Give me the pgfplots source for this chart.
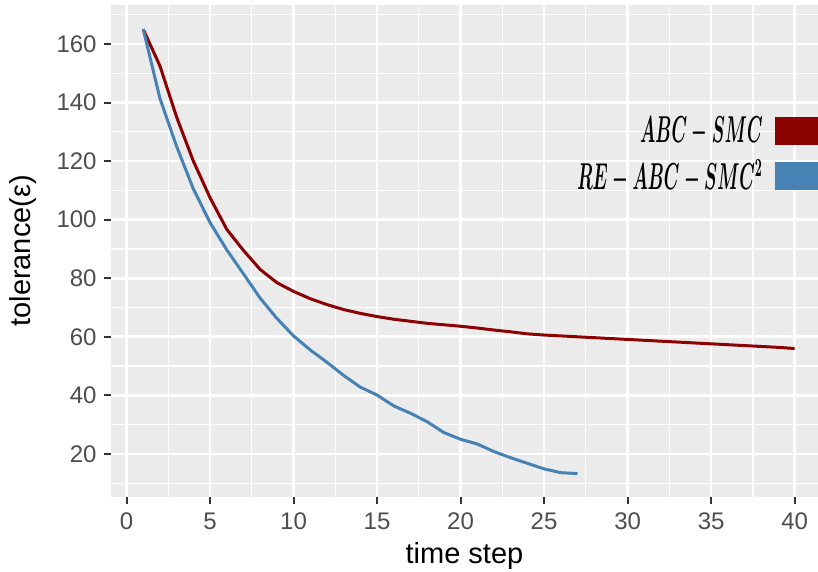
\documentclass[border=0pt]{standalone}
\usepackage{pgfplots}
\pgfplotsset{compat=1.18}
\usepackage{graphicx}
\usepackage{fontspec}
\setmainfont{Liberation Sans}
\definecolor{abcred}{HTML}{8B0000}
\definecolor{reblue}{HTML}{4682B4}
\definecolor{panelbg}{HTML}{EBEBEB}
\definecolor{ticklab}{HTML}{4D4D4D}
\definecolor{tickcol}{HTML}{333333}
\begin{document}
\begin{tikzpicture}
\begin{axis}[
  scale only axis, width=353.5pt, height=245.85pt,
  xmin=-0.93, xmax=41.4, ymin=5.4, ymax=173.3,
  axis background/.style={fill=panelbg},
  axis line style={draw=none},
  xtick={0,5,...,40}, ytick={20,40,...,160},
  minor xtick={2.5,7.5,...,42.5}, minor ytick={10,30,...,170},
  grid=both,
  major grid style={white, line width=1.35pt},
  minor grid style={white, line width=0.65pt},
  tick align=outside, tick pos=left,
  major tick length=3.5pt, minor tick length=0pt,
  every tick/.style={tickcol, line width=1pt},
  ticklabel style={font=\fontsize{12}{14}\selectfont, text=ticklab, inner sep=0pt},
  yticklabel style={anchor=east, xshift=-3.5pt},
  xticklabel style={anchor=north, yshift=-4.5pt},
  /pgf/number format/assume math mode=true,
  xlabel={time step}, ylabel={tolerance(ε)},
  label style={font=\fontsize{14.5}{17}\selectfont},
  xlabel style={at={(axis description cs:0.5,0)}, anchor=base, yshift=-33.5pt},
  ylabel style={at={(axis description cs:-0.1245,0.5)}, anchor=center, rotate=0},
  legend style={at={(rel axis cs:1,0.695)}, anchor=east, draw=none, fill=none,
    font=\fontsize{14}{16}\selectfont\boldmath, inner sep=0pt, row sep=7pt, column sep=6pt,
    nodes={inner sep=0pt}},
  legend plot pos=right,
  legend cell align=right,
  legend image code/.code={\fill[#1, draw=none] (0pt,-7pt) rectangle (21.5pt,7pt);},
]
\addplot[abcred, line width=1.5pt] coordinates {
(1,165) (2,152.5) (3,135) (4,120) (5,107.5) (6,96.7) (7,89.5) (8,83) (9,78.5) (10,75.5)
(11,73) (12,71) (13,69.3) (14,68) (15,66.9) (16,66) (17,65.3) (18,64.6) (19,64.1) (20,63.6)
(21,63.0) (22,62.3) (23,61.7) (24,61.0) (25,60.6) (26,60.3) (27,60.0) (28,59.7) (29,59.4) (30,59.1)
(31,58.8) (32,58.5) (33,58.2) (34,57.9) (35,57.6) (36,57.3) (37,57.0) (38,56.7) (39,56.4) (40,56.0)
};
\addlegendentry{\scalebox{0.61}[1.3]{$ABC-SMC$}}
\addplot[reblue, line width=1.5pt] coordinates {
(1,165) (2,141.4) (3,125) (4,110.5) (5,99) (6,89.7) (7,81.5) (8,73.2) (9,66.3) (10,60.3)
(11,55.5) (12,51.3) (13,46.8) (14,42.8) (15,40.1) (16,36.4) (17,33.9) (18,31) (19,27.3) (20,25)
(21,23.4) (22,20.8) (23,18.7) (24,16.8) (25,14.9) (26,13.6) (27,13.3)
};
\addlegendentry{\scalebox{0.61}[1.3]{$RE-ABC-SMC^2$}}
\end{axis}
\pgfresetboundingbox
\path[use as bounding box] (-55.5pt,-37.65pt) rectangle (353.5pt,248.35pt);
\end{tikzpicture}
\end{document}
